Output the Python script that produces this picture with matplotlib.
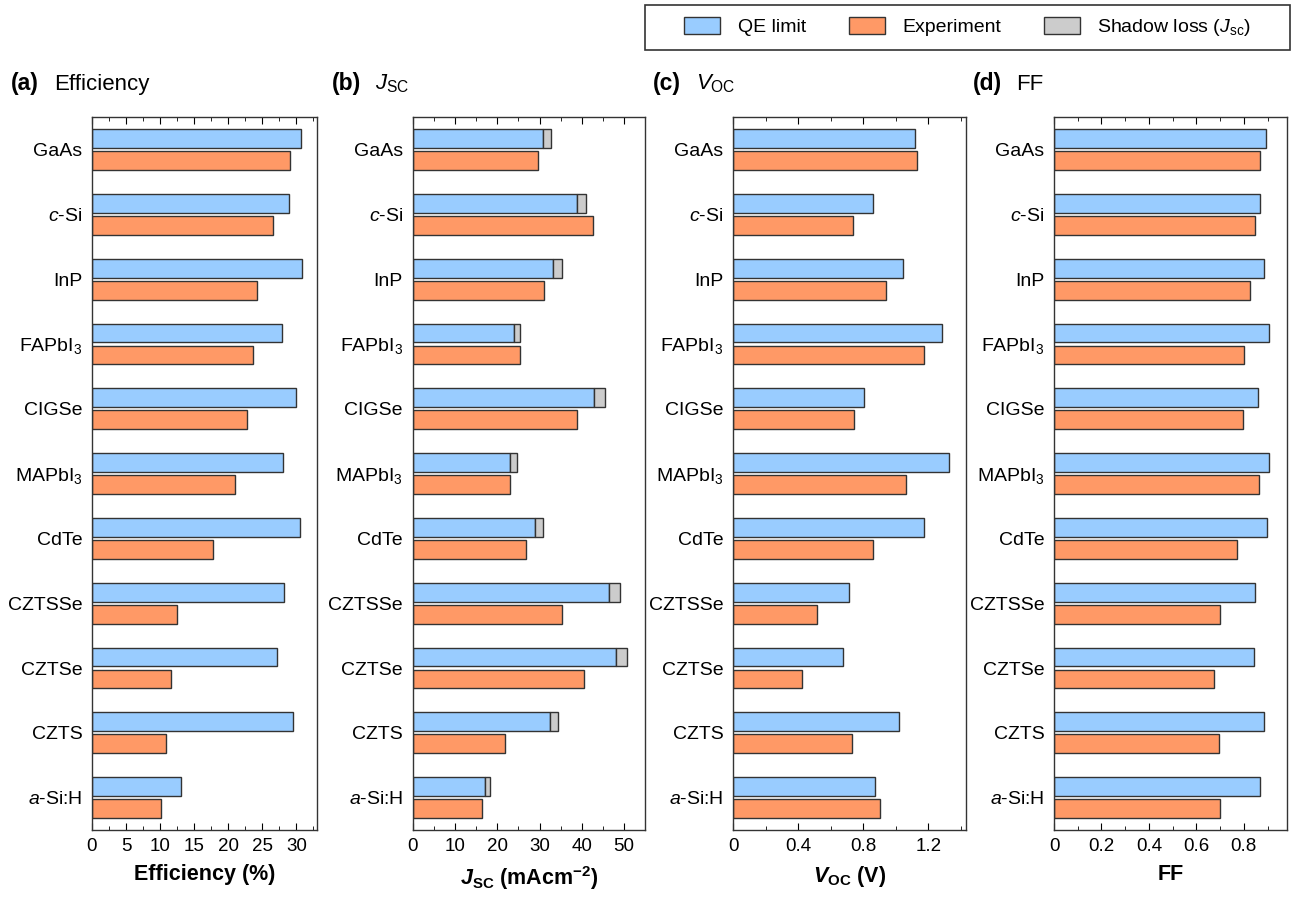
import matplotlib
matplotlib.use('Agg')
import matplotlib.pyplot as plt
from matplotlib.patches import Patch, Rectangle
from matplotlib.ticker import MultipleLocator, FuncFormatter
import numpy as np

plt.rcParams['font.family'] = ['Liberation Sans', 'DejaVu Sans']
plt.rcParams['mathtext.fontset'] = 'custom'
plt.rcParams['mathtext.rm'] = 'Liberation Sans'
plt.rcParams['mathtext.it'] = 'Liberation Sans:italic'
plt.rcParams['mathtext.bf'] = 'Liberation Sans:bold'
plt.rcParams['mathtext.bfit'] = 'Liberation Sans:bold:italic'

materials = ['GaAs', '$c$-Si', 'InP', 'FAPbI$_3$', 'CIGSe', 'MAPbI$_3$', 'CdTe',
             'CZTSSe', 'CZTSe', 'CZTS', '$a$-Si:H']

eff_qe = [30.7, 28.9, 30.9, 27.9, 29.9, 28.0, 30.6, 28.2, 27.2, 29.5, 13.1]
eff_exp = [29.0, 26.6, 24.2, 23.6, 22.8, 21.0, 17.8, 12.5, 11.6, 10.9, 10.1]

jsc_qe = [30.8, 38.8, 33.3, 24.0, 42.9, 23.1, 29.0, 46.4, 48.0, 32.4, 17.1]
jsc_shadow = [1.9, 2.3, 2.1, 1.5, 2.6, 1.6, 1.9, 2.7, 2.7, 1.9, 1.2]
jsc_exp = [29.7, 42.6, 31.1, 25.3, 38.8, 23.1, 26.9, 35.2, 40.6, 21.8, 16.3]

voc_qe = [1.115, 0.856, 1.041, 1.285, 0.804, 1.326, 1.173, 0.713, 0.672, 1.021, 0.868]
voc_exp = [1.128, 0.738, 0.938, 1.171, 0.744, 1.060, 0.858, 0.513, 0.421, 0.732, 0.899]

ff_qe = [0.893, 0.867, 0.886, 0.904, 0.860, 0.905, 0.897, 0.848, 0.842, 0.884, 0.869]
ff_exp = [0.867, 0.849, 0.826, 0.800, 0.795, 0.862, 0.770, 0.700, 0.674, 0.694, 0.700]

c_qe = '#99ccff'
c_exp = '#ff9966'
c_sh = '#cccccc'
c_edge = '#333333'

W, H = 1292, 899
fig = plt.figure(figsize=(W / 100, H / 100), dpi=100)

n = len(materials)
ypos = np.arange(n)[::-1]
h = 0.29
off = 0.17

lefts = [0.0712, 0.3194, 0.5676, 0.8158]
widths = [0.174, 0.180, 0.180, 0.180]
bottom, height = 0.0767, 0.793

panels = [
    ('(a)', 'Efficiency', 'Efficiency (%)', eff_qe, eff_exp, None, 33, 5, 2.5),
    ('(b)', '$J_{\\mathrm{SC}}$', '$\\mathbfit{J}_{\\mathbf{SC}}$ (mAcm$^{\\mathbf{-2}}$)',
     jsc_qe, jsc_exp, jsc_shadow, 55, 10, 5),
    ('(c)', '$V_{\\mathrm{OC}}$', '$\\mathbfit{V}_{\\mathbf{OC}}$ (V)', voc_qe, voc_exp, None, 1.43, 0.4, 0.2),
    ('(d)', 'FF', 'FF', ff_qe, ff_exp, None, 0.98, 0.2, 0.1),
]

for i, (tag, title, xlabel, qe, exp, sh, xmax, major, minor) in enumerate(panels):
    ax = fig.add_axes([lefts[i], bottom, widths[i], height])
    ax.barh(ypos + off, qe, height=h, color=c_qe, edgecolor=c_edge, linewidth=1)
    if sh is not None:
        ax.barh(ypos + off, sh, left=qe, height=h, color=c_sh, edgecolor=c_edge, linewidth=1)
    ax.barh(ypos - off, exp, height=h, color=c_exp, edgecolor=c_edge, linewidth=1)
    ax.set_ylim(-0.5, n - 0.5)
    ax.set_xlim(0, xmax)
    ax.set_yticks(ypos)
    ax.set_yticklabels(materials, fontsize=14)
    ax.tick_params(axis='y', length=0, pad=7)
    ax.xaxis.set_major_locator(MultipleLocator(major))
    ax.xaxis.set_minor_locator(MultipleLocator(minor))
    ax.xaxis.set_major_formatter(FuncFormatter(lambda v, p: '%g' % round(v, 3)))
    ax.tick_params(axis='x', which='both', direction='in', top=True, labelsize=13.5,
                   pad=6)
    ax.tick_params(axis='x', which='major', length=5)
    ax.tick_params(axis='x', which='minor', length=3)
    for s in ax.spines.values():
        s.set_linewidth(1)
        s.set_color('#333333')
    ax.set_xlabel(xlabel, fontsize=15.5, fontweight='bold', labelpad=6)
    x0 = lefts[i] - 0.0625
    fig.text(x0, 0.900, tag, fontsize=16.5, fontweight='bold', va='baseline')
    fig.text(x0 + 0.0335, 0.900, title, fontsize=16, va='baseline')

# legend box
fig.patches.append(Rectangle((645 / W, 1 - 50 / H), 645 / W, 45 / H, transform=fig.transFigure,
                             fill=False, edgecolor='#333333', linewidth=1.2))
handles = [Patch(facecolor=c_qe, edgecolor=c_edge, label='QE limit'),
           Patch(facecolor=c_exp, edgecolor=c_edge, label='Experiment'),
           Patch(facecolor=c_sh, edgecolor=c_edge, label='Shadow loss ($J_{\\mathrm{sc}}$)')]
fig.legend(handles=handles, loc='center', bbox_to_anchor=(967.5 / W, 1 - 27.5 / H), ncol=3,
           fontsize=14, frameon=False, handlelength=1.85, handleheight=0.95,
           handletextpad=0.9, columnspacing=2.2)

fig.savefig('out.png', dpi=100)
